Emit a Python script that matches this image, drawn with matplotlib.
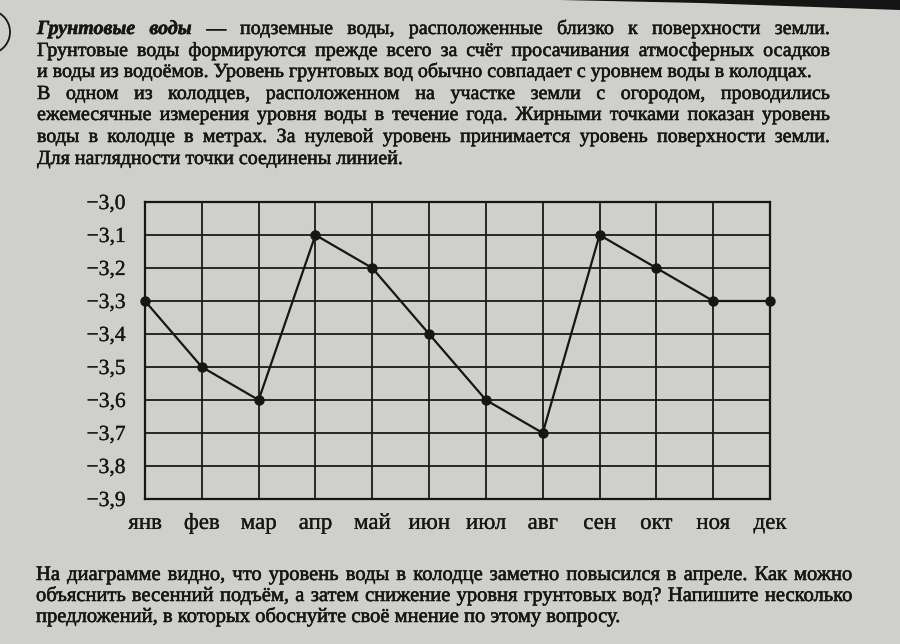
import matplotlib
matplotlib.use('Agg')
import matplotlib.pyplot as plt
import matplotlib.patheffects as pe
from matplotlib.patches import Arc, Polygon

plt.rcParams['font.family'] = ['Liberation Serif', 'DejaVu Serif']

# ---- data ----
months = ['янв', 'фев', 'мар', 'апр', 'май', 'июн', 'июл', 'авг', 'сен', 'окт', 'ноя', 'дек']
levels = [-3.3, -3.5, -3.6, -3.1, -3.2, -3.4, -3.6, -3.7, -3.1, -3.2, -3.3, -3.3]
yticks = [-3.0, -3.1, -3.2, -3.3, -3.4, -3.5, -3.6, -3.7, -3.8, -3.9]
ytick_labels = ['−3,0', '−3,1', '−3,2', '−3,3', '−3,4', '−3,5', '−3,6', '−3,7', '−3,8', '−3,9']

bold_term = 'Грунтовые воды'
top_lines = [
    'Грунтовые воды — подземные воды, расположенные близко к поверхности земли.',
    'Грунтовые воды формируются прежде всего за счёт просачивания атмосферных осадков',
    'и воды из водоёмов. Уровень грунтовых вод обычно совпадает с уровнем воды в колодцах.',
    'В одном из колодцев, расположенном на участке земли с огородом, проводились',
    'ежемесячные измерения уровня воды в течение года. Жирными точками показан уровень',
    'воды в колодце в метрах. За нулевой уровень принимается уровень поверхности земли.',
    'Для наглядности точки соединены линией.',
]
top_justify = [True, True, False, True, True, True, False]

bottom_lines = [
    'На диаграмме видно, что уровень воды в колодце заметно повысился в апреле. Как можно',
    'объяснить весенний подъём, а затем снижение уровня грунтовых вод? Напишите несколько',
    'предложений, в которых обоснуйте своё мнение по этому вопросу.',
]
bottom_justify = [True, True, False]

# ---- style ----
W, H = 900, 644
BG = '#cfcfcb'
INK = '#161616'
HEAVY = [pe.withStroke(linewidth=0.4, foreground=INK)]

fig = plt.figure(figsize=(W / 100, H / 100), dpi=100, facecolor=BG)
renderer = fig.canvas.get_renderer()

# photo artefacts: circled-number fragment and dark edge
fig.add_artist(Arc((-12 / W, 1 - 32 / H), 44 / W, 44 / H, theta1=-70, theta2=70,
                   transform=fig.transFigure, color=INK, lw=1.3))
fig.add_artist(Polygon([(560 / W, 1), (1, 1), (1, 1 - 10 / H), (700 / W, 1 - 3 / H)],
                       closed=True, transform=fig.transFigure, color='#151515', lw=0))


def place_line(text, base_px, x0, x1, size, justify, bold_first=None):
    y = 1 - base_px / H
    if not justify:
        fig.text(x0 / W, y, text, fontsize=size, va='baseline', ha='left', color=INK,
                 path_effects=HEAVY)
        return
    words = text.split(' ')
    nb = len(bold_first.split(' ')) if bold_first else 0
    objs = []
    for i, w in enumerate(words):
        kw = {}
        if i < nb:
            kw = dict(fontweight='bold', fontstyle='italic')
        objs.append(fig.text(0, y, w, fontsize=size, va='baseline', ha='left', color=INK,
                             path_effects=HEAVY, **kw))
    widths = [o.get_window_extent(renderer).width for o in objs]
    gap = (x1 - x0 - sum(widths)) / (len(objs) - 1)
    x = x0
    for o, wd in zip(objs, widths):
        o.set_x(x / W)
        x += wd + gap


top_base = [34, 56, 77, 99, 120, 142, 164]
for i, (ln, j) in enumerate(zip(top_lines, top_justify)):
    place_line(ln, top_base[i], 37, 830, 14.4, j, bold_term if i == 0 else None)

bottom_base = [580, 601, 622]
for i, (ln, j) in enumerate(zip(bottom_lines, bottom_justify)):
    place_line(ln, bottom_base[i], 36, 852, 14.8, j)

# ---- chart ----
ax = fig.add_axes([145 / W, 1 - 499 / H, 625 / W, 297 / H])
ax.set_facecolor(BG)
xs = list(range(len(months)))
ax.plot(xs, levels, color=INK, lw=1.6, marker='o', ms=6.5, clip_on=False, zorder=3)
ax.set_xlim(0, len(months) - 1)
ax.set_ylim(yticks[-1], yticks[0])
ax.set_xticks(xs, months)
ax.set_yticks(yticks, ytick_labels)
ax.tick_params(axis='both', length=0, colors=INK)
ax.tick_params(axis='y', pad=14, labelsize=15.5)
ax.tick_params(axis='x', pad=10, labelsize=16.5)
for lbl in ax.get_xticklabels() + ax.get_yticklabels():
    lbl.set_path_effects([pe.withStroke(linewidth=0.2, foreground=INK)])
ax.grid(True, color='#1a1a1a', lw=1.3)
ax.set_axisbelow(True)
for s in ax.spines.values():
    s.set_linewidth(1.6)
    s.set_color(INK)

fig.savefig('out.png', dpi=100, facecolor=BG)
